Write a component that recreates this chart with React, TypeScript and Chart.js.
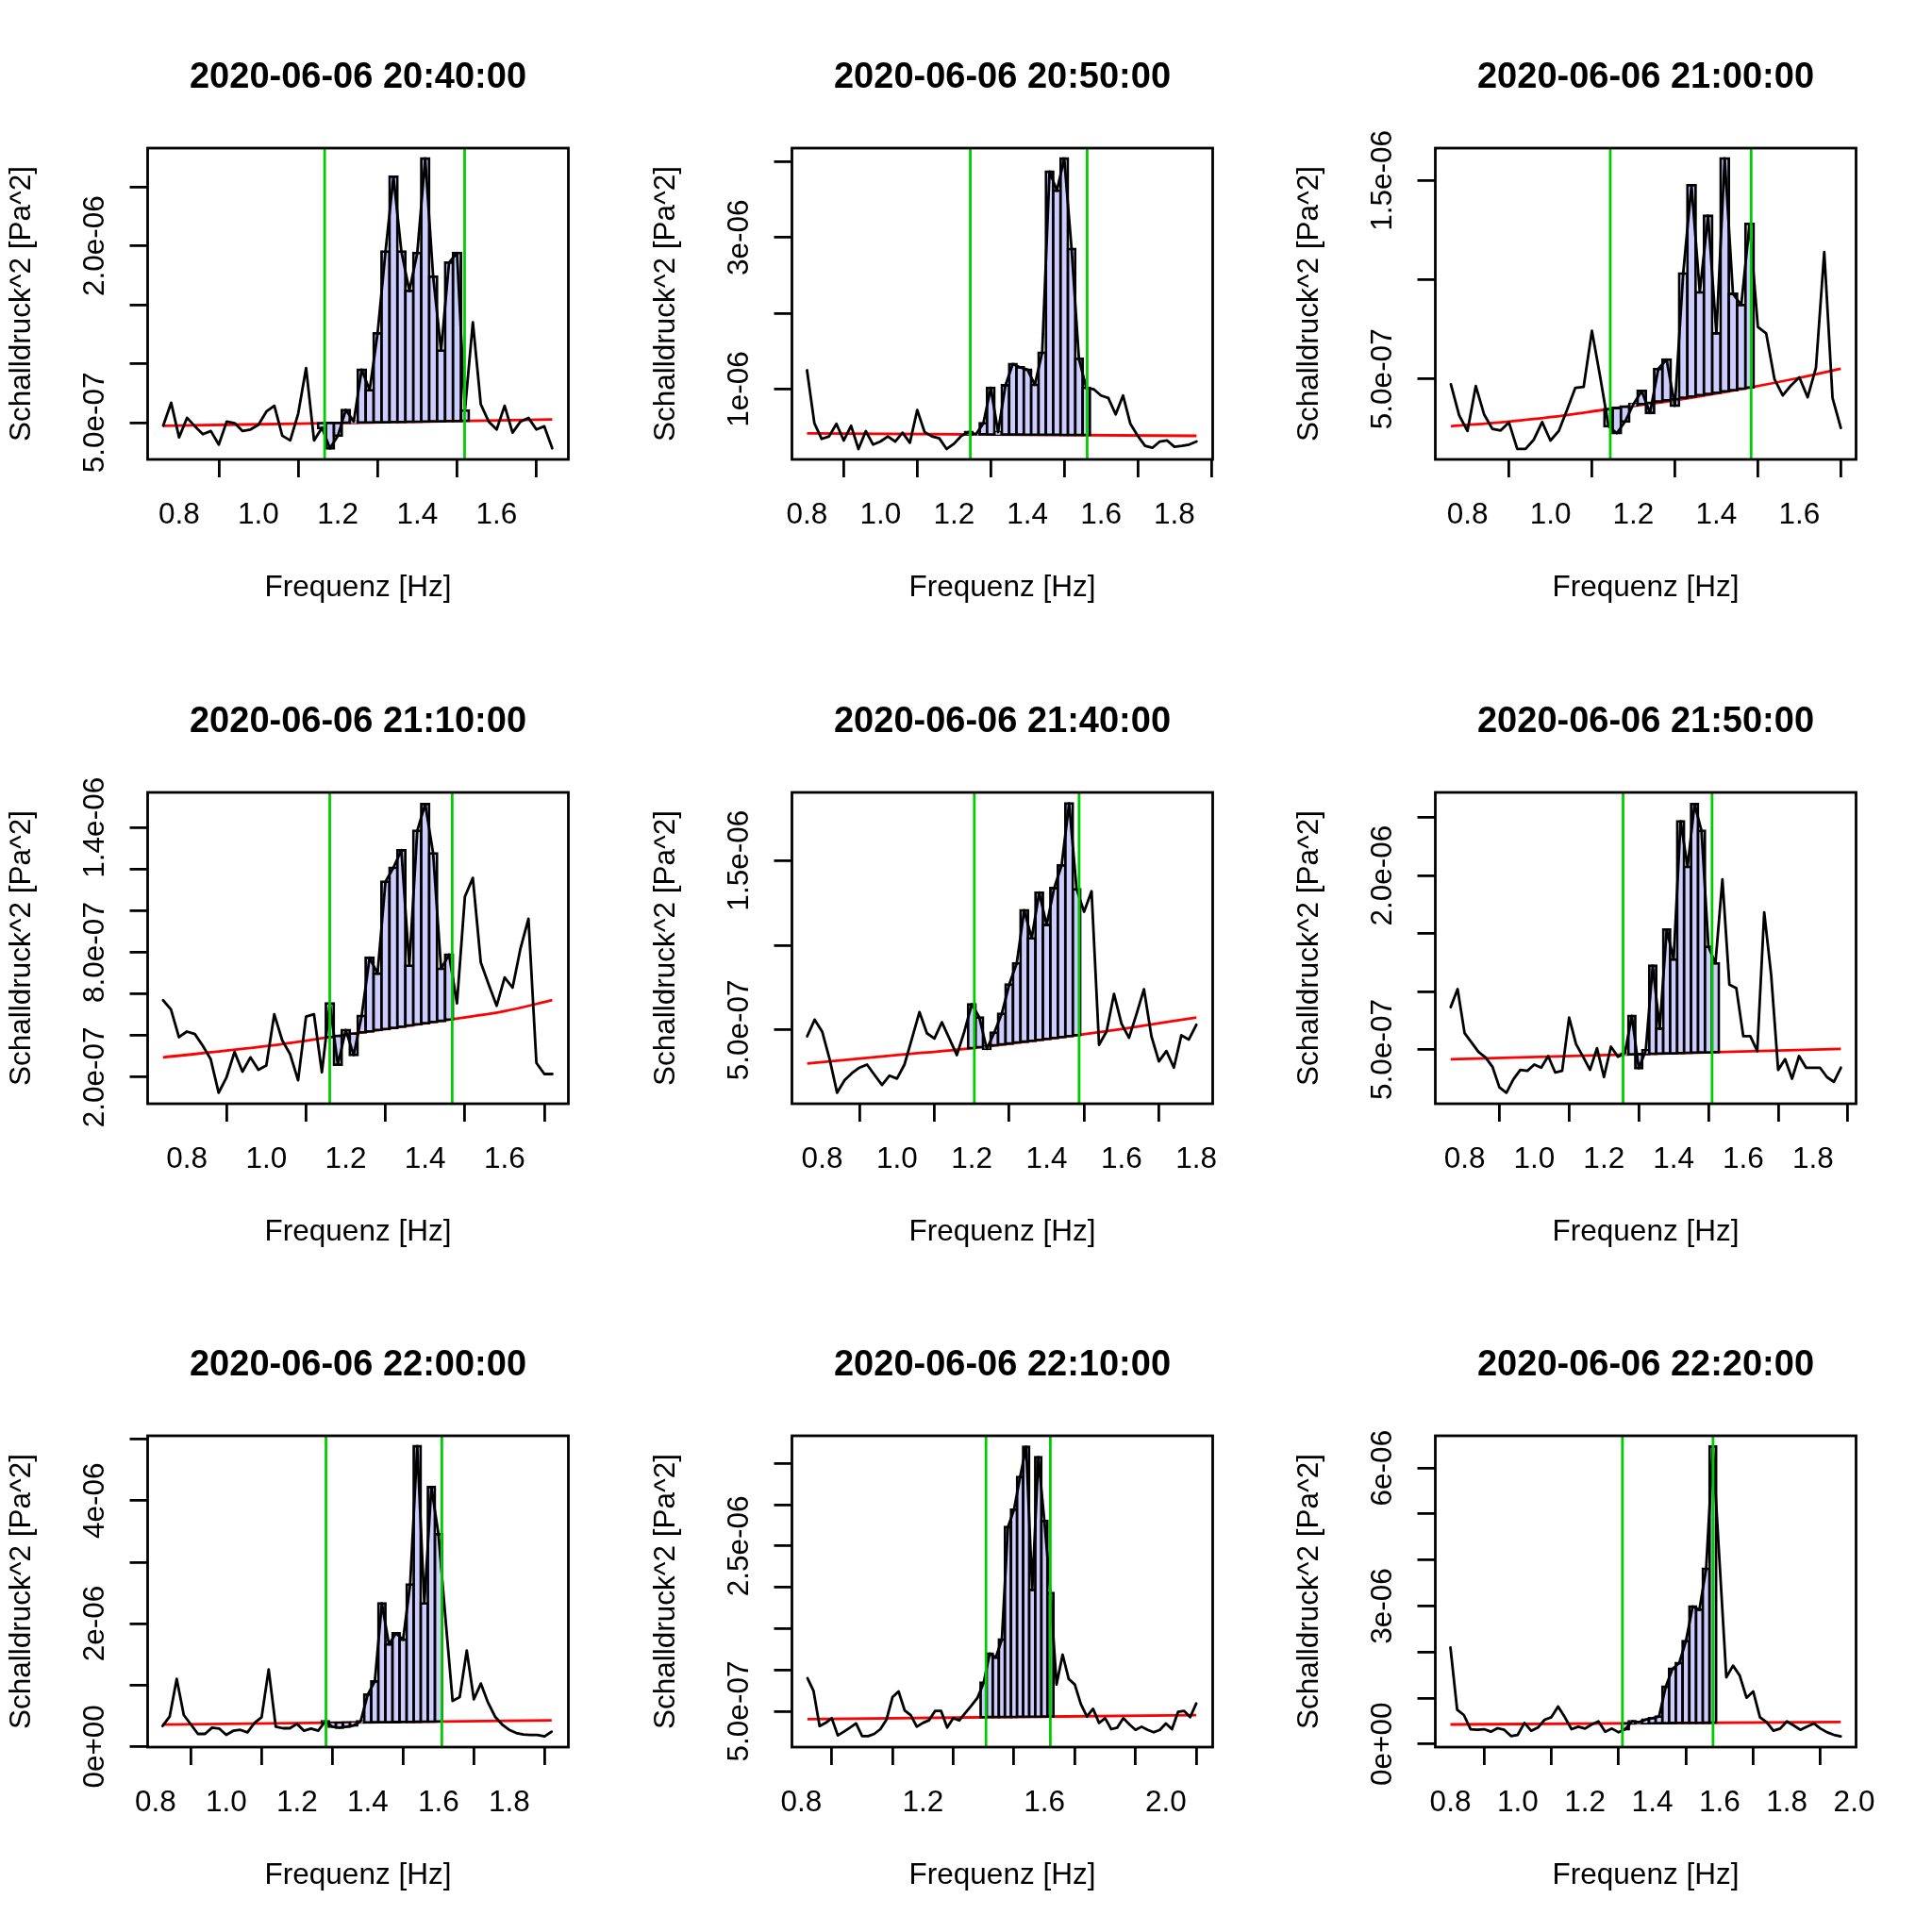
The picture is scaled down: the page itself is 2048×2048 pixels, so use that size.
import React, { useEffect, useRef } from "react";
import { Chart, registerables } from "chart.js";

Chart.register(...registerables);

// ---------- styling constants ----------
const FONT_FAMILY = "'Liberation Sans', Arial, Helvetica, sans-serif";
const LABEL_SIZE = 31.5;
const TITLE_SIZE = 38;
const LW = 2.8;
const GREEN = "#00CD00";
const RED = "#FF0000";
const BAR_FILL = "#CCCCFF";
const X_TITLE = "Frequenz [Hz]";
const Y_TITLE = "Schalldruck^2 [Pa^2]";

// All power values are in units of 1e-7 Pa^2

// ---------- Panel 1 ----------
const title1 = "2020-06-06 20:40:00";
const freq1 = [0.76,0.78,0.80,0.82,0.84,0.86,0.88,0.90,0.92,0.94,0.96,0.98,1.00,1.02,1.04,1.06,1.08,1.10,1.12,1.14,1.16,1.18,1.20,1.22,1.24,1.26,1.28,1.30,1.32,1.34,1.36,1.38,1.40,1.42,1.44,1.46,1.48,1.50,1.52,1.54,1.56,1.58,1.60,1.62,1.64,1.66,1.68,1.70,1.72,1.74];
const power1 = [4.73,6.68,3.74,5.40,4.68,4.01,4.28,3.13,5.08,4.95,4.28,4.41,4.81,5.94,6.42,3.88,3.48,5.75,9.63,3.48,4.55,2.81,3.88,6.07,5.08,9.49,7.75,12.57,19.52,25.86,19.52,16.18,19.39,27.41,17.38,11.10,18.58,19.39,6.02,13.50,6.55,5.08,4.41,6.42,4.14,5.08,5.40,4.41,4.68,2.81];
const bandStart1 = 20;
const base1 = [4.95,4.96,4.97,4.98,4.99,5.00,5.01,5.02,5.03,5.04,5.05,5.06,5.07,5.08,5.10,5.11,5.12,5.13,5.15];
const redF1 = [0.76,1.25,1.74];
const redV1 = [4.73,4.98,5.27];
const green1 = [1.1667,1.5192];
const xRange1 = [0.7208,1.7806];
const yRange1 = [1.87,28.29];
const xTicks1 = [0.8,1.0,1.2,1.4,1.6];
const xLabels1 = ["0.8","1.0","1.2","1.4","1.6"];
const yTicks1 = [5,10,15,20,25];
const yLabels1 = ["5.0e-07","","","2.0e-06",""];

// ---------- Panel 2 ----------
const title2 = "2020-06-06 20:50:00";
const freq2 = [0.80,0.82,0.84,0.86,0.88,0.90,0.92,0.94,0.96,0.98,1.00,1.02,1.04,1.06,1.08,1.10,1.12,1.14,1.16,1.18,1.20,1.22,1.24,1.26,1.28,1.30,1.32,1.34,1.36,1.38,1.40,1.42,1.44,1.46,1.48,1.50,1.52,1.54,1.56,1.58,1.60,1.62,1.64,1.66,1.68,1.70,1.72,1.74,1.76,1.78,1.80,1.82,1.84,1.86];
const power2 = [12.49,5.51,3.44,3.77,5.43,3.23,5.18,2.11,4.47,2.69,3.10,3.77,3.10,4.27,2.94,7.26,4.35,3.77,3.52,2.11,2.81,3.85,4.35,4.06,5.51,10.17,4.35,10.50,13.32,12.87,12.58,10.58,14.82,38.67,36.17,40.41,28.49,13.99,10.17,10.00,9.17,8.84,6.68,9.17,5.43,3.85,2.52,2.27,3.10,3.23,2.40,2.52,2.69,3.10];
const bandStart2 = 22;
const base2 = [4.05,4.04,4.04,4.03,4.03,4.02,4.01,4.01,4.00,3.99,3.99,3.98,3.98,3.97,3.96,3.96,3.95];
const redF2 = [0.80,1.86];
const redV2 = [4.18,3.85];
const green2 = [1.2444,1.5624];
const xRange2 = [0.759,1.904];
const yRange2 = [0.74,41.78];
const xTicks2 = [0.8,1.0,1.2,1.4,1.6,1.8];
const xLabels2 = ["0.8","1.0","1.2","1.4","1.6","1.8"];
const yTicks2 = [10,20,30,40];
const yLabels2 = ["1e-06","","3e-06",""];

// ---------- Panel 3 ----------
const title3 = "2020-06-06 21:00:00";
const freq3 = [0.76,0.78,0.80,0.82,0.84,0.86,0.88,0.90,0.92,0.94,0.96,0.98,1.00,1.02,1.04,1.06,1.08,1.10,1.12,1.14,1.16,1.18,1.20,1.22,1.24,1.26,1.28,1.30,1.32,1.34,1.36,1.38,1.40,1.42,1.44,1.46,1.48,1.50,1.52,1.54,1.56,1.58,1.60,1.62,1.64,1.66,1.68,1.70];
const power3 = [4.73,3.17,2.38,4.65,3.22,2.49,2.41,2.81,1.48,1.48,1.95,2.83,1.90,2.38,3.44,4.56,4.60,7.43,5.10,2.62,2.27,2.86,3.73,4.40,3.29,5.51,5.98,3.65,10.32,14.76,9.37,13.22,7.30,16.11,9.29,8.73,12.81,7.62,7.30,5.00,4.17,4.68,5.08,4.08,5.56,11.40,4.05,2.54];
const bandStart3 = 19;
const base3 = [3.48,3.54,3.61,3.67,3.74,3.80,3.86,3.93,3.99,4.06,4.12,4.19,4.25,4.31,4.38,4.44,4.51,4.57];
const redF3 = [0.76,0.90,1.00,1.14,1.30,1.48,1.60,1.70];
const redV3 = [2.62,2.86,3.08,3.48,3.93,4.57,5.06,5.52];
const green3 = [1.1442,1.4838];
const xRange3 = [0.7225,1.7367];
const yRange3 = [0.95,16.63];
const xTicks3 = [0.8,1.0,1.2,1.4,1.6];
const xLabels3 = ["0.8","1.0","1.2","1.4","1.6"];
const yTicks3 = [5,10,15];
const yLabels3 = ["5.0e-07","","1.5e-06"];

// ---------- Panel 4 ----------
const title4 = "2020-06-06 21:10:00";
const freq4 = [0.74,0.76,0.78,0.80,0.82,0.84,0.86,0.88,0.90,0.92,0.94,0.96,0.98,1.00,1.02,1.04,1.06,1.08,1.10,1.12,1.14,1.16,1.18,1.20,1.22,1.24,1.26,1.28,1.30,1.32,1.34,1.36,1.38,1.40,1.42,1.44,1.46,1.48,1.50,1.52,1.54,1.56,1.58,1.60,1.62,1.64,1.66,1.68,1.70,1.72];
const power4 = [5.70,5.25,3.92,4.19,4.07,3.51,2.86,1.25,2.00,3.21,2.26,2.95,2.35,2.56,5.02,3.77,3.10,1.85,4.91,5.02,2.23,5.55,2.60,4.26,3.06,4.94,7.74,6.98,11.40,12.07,12.91,7.36,13.85,15.13,12.76,7.21,7.89,5.55,10.68,11.58,7.51,6.45,5.43,6.79,6.30,8.19,9.62,2.68,2.15,2.15];
const bandStart4 = 21;
const base4 = [3.92,3.98,4.03,4.09,4.15,4.20,4.26,4.31,4.37,4.42,4.48,4.54,4.59,4.65,4.70,4.76];
const redF4 = [0.74,1.00,1.16,1.30,1.46,1.60,1.72];
const redV4 = [2.95,3.49,3.92,4.31,4.76,5.17,5.70];
const green4 = [1.1597,1.468];
const xRange4 = [0.7012,1.7605];
const yRange4 = [0.72,15.69];
const xTicks4 = [0.8,1.0,1.2,1.4,1.6];
const xLabels4 = ["0.8","1.0","1.2","1.4","1.6"];
const yTicks4 = [2,4,6,8,10,12,14];
const yLabels4 = ["2.0e-07","","","8.0e-07","","","1.4e-06"];

// ---------- Panel 5 ----------
const title5 = "2020-06-06 21:40:00";
const freq5 = [0.76,0.78,0.80,0.82,0.84,0.86,0.88,0.90,0.92,0.94,0.96,0.98,1.00,1.02,1.04,1.06,1.08,1.10,1.12,1.14,1.16,1.18,1.20,1.22,1.24,1.26,1.28,1.30,1.32,1.34,1.36,1.38,1.40,1.42,1.44,1.46,1.48,1.50,1.52,1.54,1.56,1.58,1.60,1.62,1.64,1.66,1.68,1.70,1.72,1.74,1.76,1.78,1.80];
const power5 = [4.63,5.61,4.91,3.28,1.30,2.04,2.46,2.78,2.96,2.35,1.76,2.31,2.13,2.96,4.50,6.06,4.81,4.50,5.46,4.50,3.52,4.91,6.52,5.74,3.89,4.85,5.96,7.69,8.94,12.07,10.41,13.11,11.20,13.37,14.72,18.37,13.31,11.98,13.19,4.13,4.91,7.13,5.37,4.54,5.93,7.41,4.63,3.15,3.76,2.78,4.69,4.44,5.31];
const bandStart5 = 22;
const base5 = [3.93,3.98,4.04,4.09,4.15,4.20,4.26,4.31,4.36,4.42,4.47,4.53,4.58,4.64,4.69];
const redF5 = [0.76,1.00,1.20,1.48,1.60,1.80];
const redV5 = [3.02,3.52,3.93,4.69,5.06,5.74];
const green5 = [1.2067,1.4866];
const xRange5 = [0.7193,1.8437];
const yRange5 = [0.65,19.02];
const xTicks5 = [0.8,1.0,1.2,1.4,1.6,1.8];
const xLabels5 = ["0.8","1.0","1.2","1.4","1.6","1.8"];
const yTicks5 = [5,10,15];
const yLabels5 = ["5.0e-07","","1.5e-06"];

// ---------- Panel 6 ----------
const title6 = "2020-06-06 21:50:00";
const freq6 = [0.76,0.78,0.80,0.82,0.84,0.86,0.88,0.90,0.92,0.94,0.96,0.98,1.00,1.02,1.04,1.06,1.08,1.10,1.12,1.14,1.16,1.18,1.20,1.22,1.24,1.26,1.28,1.30,1.32,1.34,1.36,1.38,1.40,1.42,1.44,1.46,1.48,1.50,1.52,1.54,1.56,1.58,1.60,1.62,1.64,1.66,1.68,1.70,1.72,1.74,1.76,1.78,1.80,1.82,1.84,1.86,1.88];
const power6 = [8.65,10.20,6.41,5.60,4.78,4.32,3.51,1.73,1.27,2.43,3.24,3.16,3.70,3.43,4.43,3.02,3.16,7.76,5.46,4.38,3.24,5.11,2.62,5.24,4.38,4.65,7.90,3.38,4.92,12.23,6.81,15.34,12.77,24.68,20.75,26.16,23.86,13.85,12.44,19.67,10.60,10.28,6.14,6.14,4.86,16.83,11.41,3.24,4.16,2.48,4.43,3.43,3.43,3.43,2.62,2.21,3.43];
const bandStart6 = 25;
const base6 = [4.56,4.58,4.59,4.61,4.62,4.64,4.66,4.67,4.69,4.70,4.72,4.74,4.75,4.77];
const redF6 = [0.76,1.88];
const redV6 = [4.16,5.05];
const green6 = [1.2549,1.5103];
const xRange6 = [0.716,1.9236];
const yRange6 = [0.32,27.17];
const xTicks6 = [0.8,1.0,1.2,1.4,1.6,1.8];
const xLabels6 = ["0.8","1.0","1.2","1.4","1.6","1.8"];
const yTicks6 = [5,10,15,20,25];
const yLabels6 = ["5.0e-07","","","2.0e-06",""];

// ---------- Panel 7 ----------
const title7 = "2020-06-06 22:00:00";
const freq7 = [0.82,0.84,0.86,0.88,0.90,0.92,0.94,0.96,0.98,1.00,1.02,1.04,1.06,1.08,1.10,1.12,1.14,1.16,1.18,1.20,1.22,1.24,1.26,1.28,1.30,1.32,1.34,1.36,1.38,1.40,1.42,1.44,1.46,1.48,1.50,1.52,1.54,1.56,1.58,1.60,1.62,1.64,1.66,1.68,1.70,1.72,1.74,1.76,1.78,1.80,1.82,1.84,1.86,1.88,1.90,1.92];
const power7 = [3.33,4.86,11.00,5.12,3.58,2.05,2.05,3.07,2.92,1.89,2.56,2.71,2.30,3.84,4.76,12.54,3.22,2.97,2.97,3.68,2.56,2.92,2.56,4.09,3.22,3.07,3.22,3.43,4.09,8.44,10.59,23.29,16.63,18.42,17.40,26.36,48.87,23.29,42.22,34.54,20.73,7.42,8.03,15.61,7.68,10.24,7.16,4.86,3.58,2.71,2.20,1.94,1.89,1.89,1.64,2.41];
const bandStart7 = 23;
const base7 = [3.86,3.87,3.88,3.89,3.90,3.91,3.92,3.93,3.94,3.96,3.97,3.98,4.00,4.01,4.02,4.04,4.05];
const redF7 = [0.82,1.92];
const redV7 = [3.58,4.25];
const green7 = [1.282,1.6096];
const xRange7 = [0.7778,1.9673];
const yRange7 = [-0.10,50.56];
const xTicks7 = [0.8,1.0,1.2,1.4,1.6,1.8];
const xLabels7 = ["0.8","1.0","1.2","1.4","1.6","1.8"];
const yTicks7 = [0,10,20,30,40,50];
const yLabels7 = ["0e+00","","2e-06","","4e-06",""];

// ---------- Panel 8 ----------
const title8 = "2020-06-06 22:10:00";
const freq8 = [0.82,0.84,0.86,0.88,0.90,0.92,0.94,0.96,0.98,1.00,1.02,1.04,1.06,1.08,1.10,1.12,1.14,1.16,1.18,1.20,1.22,1.24,1.26,1.28,1.30,1.32,1.34,1.36,1.38,1.40,1.42,1.44,1.46,1.48,1.50,1.52,1.54,1.56,1.58,1.60,1.62,1.64,1.66,1.68,1.70,1.72,1.74,1.76,1.78,1.80,1.82,1.84,1.86,1.88,1.90,1.92,1.94,1.96,1.98,2.00,2.02,2.04,2.06,2.08,2.10];
const power8 = [9.00,7.47,3.21,3.59,4.16,2.07,2.53,3.02,3.52,1.99,1.99,2.26,2.83,3.97,6.71,7.40,5.11,4.54,3.13,3.59,3.90,5.04,5.04,3.02,4.16,3.90,4.81,5.69,6.64,8.46,11.97,11.51,13.68,27.31,29.40,33.36,37.01,19.69,35.76,28.03,19.31,8.24,11.85,8.92,8.24,5.88,4.35,5.30,3.59,4.16,2.83,3.02,4.16,3.40,2.75,3.13,2.75,2.45,2.75,3.52,2.83,4.92,5.04,4.28,5.95];
const bandStart8 = 29;
const base8 = [4.28,4.29,4.29,4.30,4.31,4.31,4.32,4.33,4.34,4.34,4.35,4.36];
const redF8 = [0.82,2.10];
const redV8 = [4.05,4.54];
const green8 = [1.4078,1.6196];
const xRange8 = [0.769,2.154];
const yRange8 = [0.66,38.35];
const xTicks8 = [0.8,1.0,1.2,1.4,1.6,1.8,2.0];
const xLabels8 = ["0.8","","1.2","","1.6","","2.0"];
const yTicks8 = [5,10,15,20,25,30,35];
const yLabels8 = ["5.0e-07","","","","2.5e-06","",""];

// ---------- Panel 9 ----------
const title9 = "2020-06-06 22:20:00";
const freq9 = [0.80,0.82,0.84,0.86,0.88,0.90,0.92,0.94,0.96,0.98,1.00,1.02,1.04,1.06,1.08,1.10,1.12,1.14,1.16,1.18,1.20,1.22,1.24,1.26,1.28,1.30,1.32,1.34,1.36,1.38,1.40,1.42,1.44,1.46,1.48,1.50,1.52,1.54,1.56,1.58,1.60,1.62,1.64,1.66,1.68,1.70,1.72,1.74,1.76,1.78,1.80,1.82,1.84,1.86,1.88,1.90,1.92,1.94,1.96];
const power9 = [21.00,7.46,6.29,3.21,3.08,3.21,2.67,3.42,3.08,1.71,1.98,4.58,2.87,3.56,5.27,5.81,8.14,5.81,3.21,3.76,3.35,4.24,4.92,2.67,3.35,2.53,3.21,4.92,4.72,5.27,5.61,5.95,12.45,16.35,17.58,22.37,29.89,29.21,38.10,64.64,39.47,14.50,17.03,14.84,10.05,11.42,5.81,4.72,2.87,3.35,4.92,4.04,3.08,3.76,4.45,3.35,2.53,1.98,1.64];
const bandStart9 = 26;
const base9 = [4.49,4.50,4.51,4.52,4.52,4.53,4.54,4.55,4.56,4.57,4.58,4.59,4.60,4.61];
const redF9 = [0.80,1.96];
const redV9 = [4.24,4.79];
const green9 = [1.3112,1.5804];
const xRange9 = [0.7551,2.0056];
const yRange9 = [-0.68,67.0];
const xTicks9 = [0.8,1.0,1.2,1.4,1.6,1.8,2.0];
const xLabels9 = ["0.8","1.0","1.2","1.4","1.6","1.8","2.0"];
const yTicks9 = [0,10,20,30,40,50,60];
const yLabels9 = ["0e+00","","","3e-06","","","6e-06"];

type Spec = {
  title: string; freq: number[]; power: number[]; bandStart: number; base: number[];
  redF: number[]; redV: number[]; green: number[]; xRange: number[]; yRange: number[];
  xTicks: number[]; xLabels: string[]; yTicks: number[]; yLabels: string[];
};

const PANELS: Spec[] = [
  { title: title1, freq: freq1, power: power1, bandStart: bandStart1, base: base1, redF: redF1, redV: redV1, green: green1, xRange: xRange1, yRange: yRange1, xTicks: xTicks1, xLabels: xLabels1, yTicks: yTicks1, yLabels: yLabels1 },
  { title: title2, freq: freq2, power: power2, bandStart: bandStart2, base: base2, redF: redF2, redV: redV2, green: green2, xRange: xRange2, yRange: yRange2, xTicks: xTicks2, xLabels: xLabels2, yTicks: yTicks2, yLabels: yLabels2 },
  { title: title3, freq: freq3, power: power3, bandStart: bandStart3, base: base3, redF: redF3, redV: redV3, green: green3, xRange: xRange3, yRange: yRange3, xTicks: xTicks3, xLabels: xLabels3, yTicks: yTicks3, yLabels: yLabels3 },
  { title: title4, freq: freq4, power: power4, bandStart: bandStart4, base: base4, redF: redF4, redV: redV4, green: green4, xRange: xRange4, yRange: yRange4, xTicks: xTicks4, xLabels: xLabels4, yTicks: yTicks4, yLabels: yLabels4 },
  { title: title5, freq: freq5, power: power5, bandStart: bandStart5, base: base5, redF: redF5, redV: redV5, green: green5, xRange: xRange5, yRange: yRange5, xTicks: xTicks5, xLabels: xLabels5, yTicks: yTicks5, yLabels: yLabels5 },
  { title: title6, freq: freq6, power: power6, bandStart: bandStart6, base: base6, redF: redF6, redV: redV6, green: green6, xRange: xRange6, yRange: yRange6, xTicks: xTicks6, xLabels: xLabels6, yTicks: yTicks6, yLabels: yLabels6 },
  { title: title7, freq: freq7, power: power7, bandStart: bandStart7, base: base7, redF: redF7, redV: redV7, green: green7, xRange: xRange7, yRange: yRange7, xTicks: xTicks7, xLabels: xLabels7, yTicks: yTicks7, yLabels: yLabels7 },
  { title: title8, freq: freq8, power: power8, bandStart: bandStart8, base: base8, redF: redF8, redV: redV8, green: green8, xRange: xRange8, yRange: yRange8, xTicks: xTicks8, xLabels: xLabels8, yTicks: yTicks8, yLabels: yLabels8 },
  { title: title9, freq: freq9, power: power9, bandStart: bandStart9, base: base9, redF: redF9, redV: redV9, green: green9, xRange: xRange9, yRange: yRange9, xTicks: xTicks9, xLabels: xLabels9, yTicks: yTicks9, yLabels: yLabels9 },
];

// ---------- layout constants ----------
const CANVAS = 683;
const CELL_POS = [0, 683, 1365];
const Y_AXIS_W = 156.5;
const X_AXIS_H = 155;
const PAD_RIGHT = 80.5;
const PAD_BOTTOM = 41;
const Y_LABEL_OFFSET = 47;

function buildConfig(spec: Spec): any {
  const [yMin, yMax] = spec.yRange;
  const [xMin, xMax] = spec.xRange;
  const bars = spec.base.map((b, j) => ({
    x: spec.freq[spec.bandStart + j],
    y: [b, spec.power[spec.bandStart + j]],
  }));
  const line = spec.freq.map((f, i) => ({ x: f, y: spec.power[i] }));
  const red = spec.redF.map((f, i) => ({ x: f, y: spec.redV[i] }));
  const greens = spec.green.map((g) => ({
    type: "line",
    data: [{ x: g, y: yMin }, { x: g, y: yMax }],
    borderColor: GREEN,
    borderWidth: LW,
    pointRadius: 0,
    order: 0,
  }));

  const labelFont = { family: FONT_FAMILY, size: LABEL_SIZE };

  const yLabelPlugin = {
    id: "yTickText",
    afterDraw(chart: any) {
      const { ctx, chartArea, scales } = chart;
      const ys = scales.y;
      ctx.save();
      ctx.font = `${LABEL_SIZE}px ${FONT_FAMILY}`;
      ctx.fillStyle = "#000";
      ctx.textAlign = "center";
      ctx.textBaseline = "alphabetic";
      spec.yTicks.forEach((v, i) => {
        const text = spec.yLabels[i];
        if (!text) return;
        const py = ys.getPixelForValue(v);
        ctx.save();
        ctx.translate(chartArea.left - Y_LABEL_OFFSET, py);
        ctx.rotate(-Math.PI / 2);
        ctx.fillText(text, 0, 0);
        ctx.restore();
      });
      ctx.restore();
    },
  };

  const framePlugin = {
    id: "frameBox",
    afterDatasetsDraw(chart: any) {
      const { ctx, chartArea: a } = chart;
      ctx.save();
      ctx.strokeStyle = "#000";
      ctx.lineWidth = LW;
      ctx.strokeRect(a.left, a.top, a.right - a.left, a.bottom - a.top);
      ctx.restore();
    },
  };

  return {
    type: "line",
    data: {
      datasets: [
        ...greens,
        {
          type: "line",
          data: line,
          borderColor: "#000",
          borderWidth: LW,
          pointRadius: 0,
          tension: 0,
          borderJoinStyle: "round",
          borderCapStyle: "round",
          order: 1,
        },
        {
          type: "bar",
          data: bars,
          backgroundColor: BAR_FILL,
          borderColor: "#000",
          borderWidth: LW,
          borderSkipped: false,
          inflateAmount: LW / 2,
          barPercentage: 1,
          categoryPercentage: 1,
          order: 2,
        },
        {
          type: "line",
          data: red,
          borderColor: RED,
          borderWidth: LW,
          pointRadius: 0,
          cubicInterpolationMode: "monotone",
          order: 3,
        },
      ],
    },
    options: {
      responsive: false,
      maintainAspectRatio: false,
      animation: false,
      devicePixelRatio: 1,
      events: [],
      layout: { padding: { left: 0, top: 0, right: PAD_RIGHT, bottom: PAD_BOTTOM } },
      plugins: {
        legend: { display: false },
        tooltip: { enabled: false },
        title: {
          display: true,
          text: spec.title,
          fullSize: false,
          color: "#000",
          font: { family: FONT_FAMILY, size: TITLE_SIZE, weight: "bold" },
          padding: { top: 59.5, bottom: 51.9 },
        },
      },
      scales: {
        x: {
          type: "linear",
          min: xMin,
          max: xMax,
          offset: false,
          afterBuildTicks: (s: any) => {
            s.ticks = spec.xTicks.map((v) => ({ value: v }));
          },
          afterFit: (s: any) => {
            s.height = X_AXIS_H;
          },
          ticks: {
            autoSkip: false,
            maxRotation: 0,
            minRotation: 0,
            padding: 21,
            color: "#000",
            font: labelFont,
            callback: (_v: any, i: number) => spec.xLabels[i],
          },
          grid: {
            drawOnChartArea: false,
            drawTicks: true,
            tickLength: 19,
            tickColor: "#000",
            tickWidth: LW,
            color: "#000",
            lineWidth: LW,
          },
          border: { display: false },
          title: {
            display: true,
            text: X_TITLE,
            color: "#000",
            font: labelFont,
            padding: { top: 0, bottom: 0 },
          },
        },
        y: {
          type: "linear",
          min: yMin,
          max: yMax,
          afterBuildTicks: (s: any) => {
            s.ticks = spec.yTicks.map((v) => ({ value: v }));
          },
          afterFit: (s: any) => {
            s.width = Y_AXIS_W;
          },
          ticks: { display: false },
          grid: {
            drawOnChartArea: false,
            drawTicks: true,
            tickLength: 19,
            tickColor: "#000",
            tickWidth: LW,
            color: "#000",
            lineWidth: LW,
          },
          border: { display: false },
          title: {
            display: true,
            text: Y_TITLE,
            color: "#000",
            font: labelFont,
            padding: { top: 4.9, bottom: 0 },
          },
        },
      },
    },
    plugins: [yLabelPlugin, framePlugin],
  };
}

function Panel({ spec, left, top }: { spec: Spec; left: number; top: number }) {
  const ref = useRef<HTMLCanvasElement | null>(null);
  useEffect(() => {
    if (!ref.current) return;
    const chart = new Chart(ref.current, buildConfig(spec));
    return () => chart.destroy();
  }, [spec]);
  return (
    <canvas
      ref={ref}
      width={CANVAS}
      height={CANVAS}
      style={{ position: "absolute", left, top, width: CANVAS, height: CANVAS }}
    />
  );
}

export default function App() {
  useEffect(() => {
    document.body.style.margin = "0";
    document.body.style.background = "#fff";
  }, []);
  return (
    <div style={{ position: "relative", width: 2048, height: 2048, background: "#fff", overflow: "hidden" }}>
      {PANELS.map((p, i) => (
        <Panel key={i} spec={p} left={CELL_POS[i % 3]} top={CELL_POS[Math.floor(i / 3)]} />
      ))}
    </div>
  );
}
